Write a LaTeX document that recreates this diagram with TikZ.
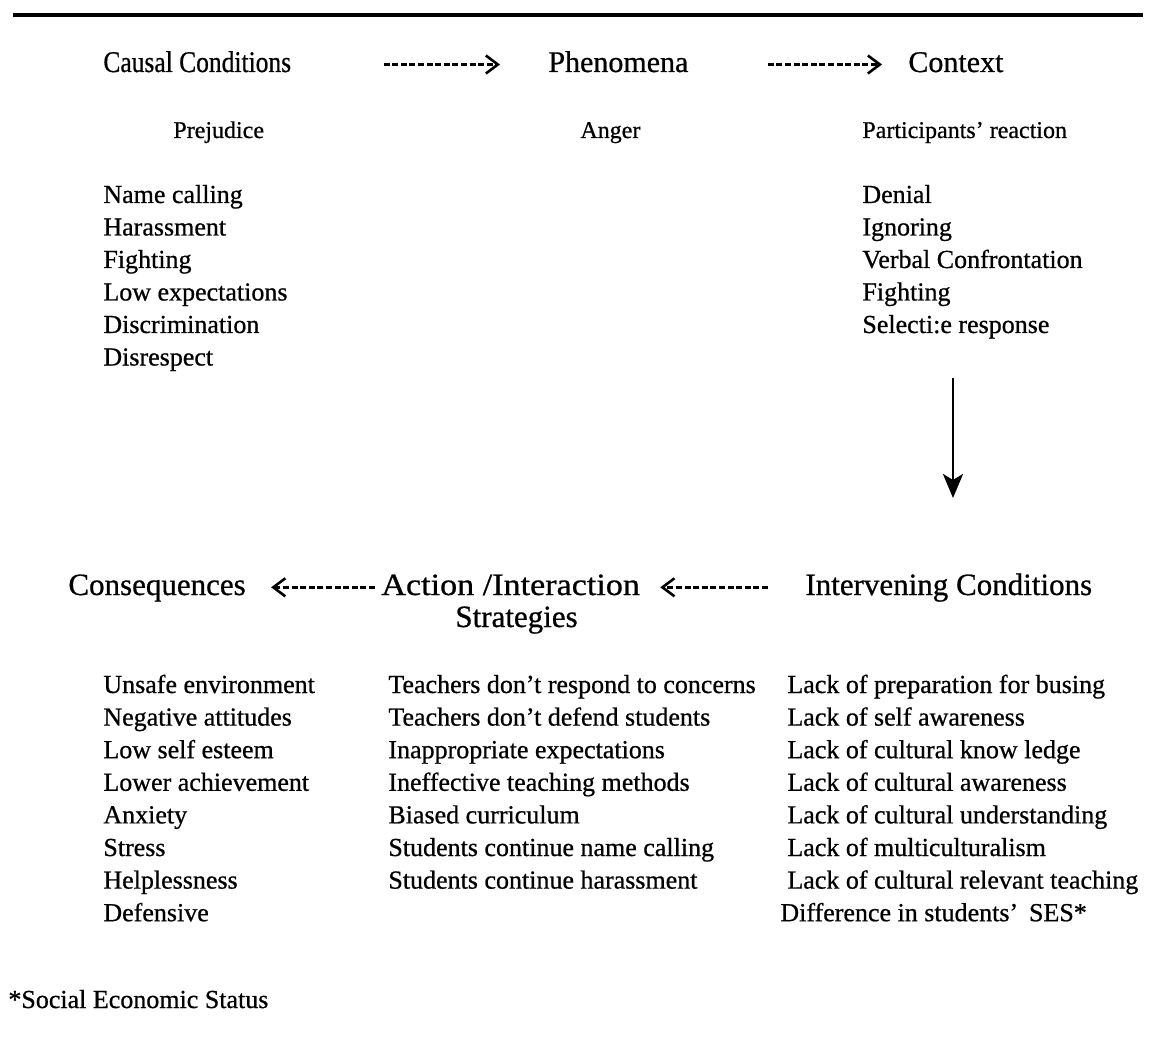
\documentclass[tikz,border=0pt]{standalone}
\usepackage{fontspec}
\setmainfont{Liberation Serif}[FakeBold=0.7]
\usetikzlibrary{arrows.meta}

\begin{document}
\begin{tikzpicture}[x=0.5pt,y=-0.5pt,
  txt/.style={inner sep=0pt, anchor=base west, font=\fontsize{13pt}{15pt}\selectfont},
  sub/.style={inner sep=0pt, anchor=base west, font=\fontsize{12pt}{14pt}\selectfont},
  head/.style={inner sep=0pt, anchor=base west, font=\fontsize{15pt}{18pt}\selectfont,
    text height=10.5pt, text depth=3pt},
  headB/.style={inner sep=0pt, anchor=base west, font=\fontsize{15.5pt}{18pt}\selectfont,
    text height=10.8pt, text depth=3.1pt},
  flow/.style={line width=1.2pt, dash pattern=on 3pt off 1.3pt,
    -{Straight Barb[length=6pt,width=9pt,line width=1.3pt]}},
  down/.style={line width=1.4pt, -{Stealth[length=12pt,width=10pt,inset=3pt]}},
]
\useasboundingbox (0,0) rectangle (1152,1048);

% top rule
\draw[line width=1.6pt] (13,15) -- (1143,15);

% first row of headings
\node[head] (cc)  at (103,72) {\scalebox{0.85}[1]{Causal Conditions}};
\node[head] (ph)  at (548,72) {Phenomena};
\node[head] (ctx) at (908,72) {Context};
\draw[flow, shorten <=46pt, shorten >=24pt] (cc.east) -- (ph.west);
\draw[flow, shorten <=39.5pt, shorten >=13pt] (ph.east) -- (ctx.west);

% sub-labels
\node[sub] (prej) at (173,138) {Prejudice};
\node[sub] (ang)  at (580,138) {Anger};
\node[sub] (part) at (862,138) {Participants' reaction};

% causal conditions
\foreach \t [count=\i from 0] in {Name calling, Harassment, Fighting,
    Low expectations, Discrimination, Disrespect}
  \node[txt] (cause\i) at (103,203+32.5*\i) {\t};

% context
\foreach \t [count=\i from 0] in {Denial, Ignoring, Verbal Confrontation,
    Fighting, Selecti:e response}
  \node[txt] (reac\i) at (862,203+32.5*\i) {\t};

% link from context down to intervening conditions
\coordinate (dtop) at (953,378);
\coordinate (dbot) at (953,498);
\draw[down] (dtop) -- (dbot);

% second row of headings
\node[headB] (cons)  at (68,595) {Consequences};
\node[headB] (act)   at (381,595) {\scalebox{1.1}[1]{Action /Interaction}};
\node[headB] (strat) at (455,627) {Strategies};
\node[headB] (inter) at (805,595) {Intervening Conditions};
\draw[flow, shorten <=3pt, shorten >=12.5pt] (act.west) -- (cons.east);
\draw[flow, shorten <=18.5pt, shorten >=10pt] (inter.west) -- (act.east);

% consequences
\foreach \t [count=\i from 0] in {Unsafe environment, Negative attitudes,
    Low self esteem, Lower achievement, Anxiety, Stress, Helplessness, Defensive}
  \node[txt] (conq\i) at (103,693+32.6*\i) {\t};

% strategies
\foreach \t [count=\i from 0] in {Teachers don't respond to concerns,
    Teachers don't defend students, Inappropriate expectations,
    Ineffective teaching methods, Biased curriculum,
    Students continue name calling, Students continue harassment}
  \node[txt] (strg\i) at (388,693+32.6*\i) {\t};

% intervening conditions
\foreach \t [count=\i from 0] in {Lack of preparation for busing,
    Lack of self awareness, Lack of cultural know ledge,
    Lack of cultural awareness, Lack of cultural understanding,
    Lack of multiculturalism, Lack of cultural relevant teaching}
  \node[txt] (intv\i) at (787,693+32.6*\i) {\t};
\node[txt] (intv7) at (780,693+32.6*7) {Difference in students'\, SES*};

% footnote
\node[txt] (note) at (8,1008) {*Social Economic Status};
\end{tikzpicture}
\end{document}
